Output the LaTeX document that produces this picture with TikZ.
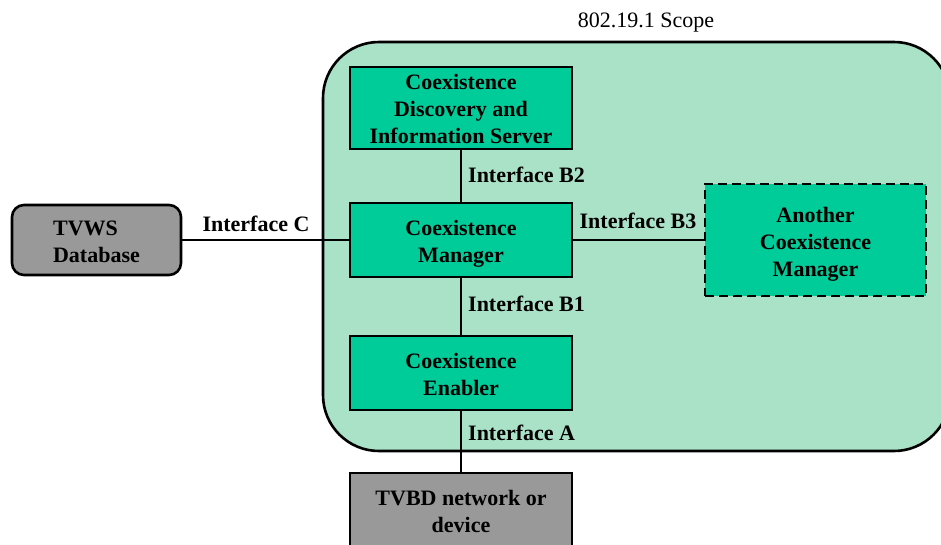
\documentclass[tikz,border=0pt]{standalone}
\usepackage{fontspec}
\setmainfont{Liberation Serif}
\definecolor{scopefill}{RGB}{170,226,200}
\definecolor{boxfill}{RGB}{0,204,153}
\definecolor{grayfill}{RGB}{153,153,153}
\begin{document}
\begin{tikzpicture}[x=1pt,y=-1pt,
  btext/.style={font=\fontsize{22}{27}\selectfont\bfseries, inner sep=0pt},
  blk/.style={draw=black, line width=2.6pt, fill=boxfill, minimum width=222pt, inner sep=0pt},
  graybox/.style={blk, fill=grayfill},
  lbl/.style={font=\fontsize{22}{27}\selectfont\bfseries, inner sep=2pt},
  conn/.style={line width=2.6pt}]
\useasboundingbox (0,0) rectangle (941,544);
\begin{scope}
\clip (0,0) rectangle (941,544);
\draw[line width=2.6pt, fill=scopefill, rounded corners=56pt] (323,42) rectangle (950,451);
\node[font=\fontsize{22}{26}\selectfont] (scopelbl) at (646,23) {802.19.1 Scope};

\node[blk, minimum height=82pt,
  label={[btext, align=center, yshift=-1pt]center:{Coexistence\\Discovery and\\Information Server}}] (cdis) at (461,108) {};
\node[blk, minimum height=74pt,
  label={[btext, align=center, yshift=-4pt]center:{Coexistence\\Manager}}] (cm) at (461,240) {};
\node[blk, minimum height=74pt,
  label={[btext, align=center, yshift=-1pt]center:{Coexistence\\Enabler}}] (ce) at (461,373) {};
\node[graybox, minimum width=169pt, minimum height=70pt, rounded corners=12pt,
  label={[btext, align=left, yshift=-2pt]center:{TVWS\\Database}}] (tvws) at (96.5,240) {};
\node[blk, dashed, dash pattern=on 9pt off 5pt, minimum width=221pt, minimum height=112pt,
  label={[btext, align=center, yshift=-4pt]center:{Another\\Coexistence\\Manager}}] (acm) at (815.5,240) {};
\node[graybox, minimum height=74pt,
  label={[btext, align=center, yshift=-1pt]center:{TVBD network or\\device}}] (tvbd) at (461,510) {};

\draw[conn] (cdis.south) -- (cm.north);
\draw[conn] (cm.south) -- (ce.north);
\draw[conn] (ce.south) -- (tvbd.north);
\draw[conn] (tvws.east) -- (cm.west);
\draw[conn] (cm.east) -- (acm.west);

\node[lbl, anchor=west] (lb2) at (466,175) {Interface B2};
\node[lbl] (lc) at (256,224) {Interface C};
\node[lbl] (lb3) at (638,221) {Interface B3};
\node[lbl, anchor=west] (lb1) at (466,304) {Interface B1};
\node[lbl, anchor=west] (la) at (466,433) {Interface A};
\end{scope}
\end{tikzpicture}
\end{document}
